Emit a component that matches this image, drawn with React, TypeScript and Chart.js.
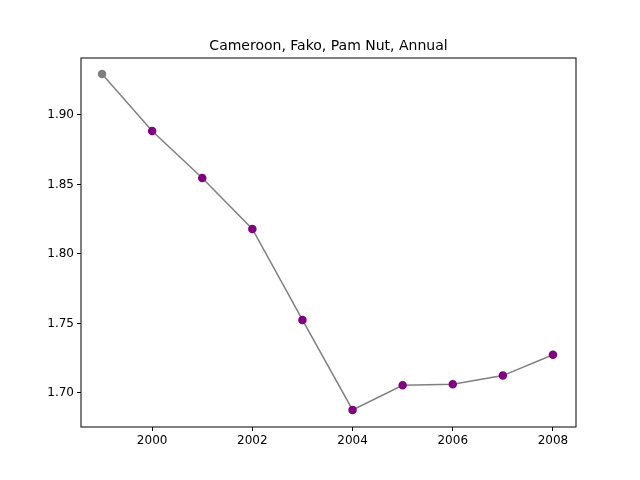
import { useEffect, useRef } from 'react';
import { Chart, registerables } from 'chart.js';

Chart.register(...registerables);

const years = [1999, 2000, 2001, 2002, 2003, 2004, 2005, 2006, 2007, 2008];
const values = [1.9295, 1.8885, 1.8547, 1.818, 1.7525, 1.6878, 1.7055, 1.7062, 1.7125, 1.7275];
const pointColors = ['#808080', '#800080', '#800080', '#800080', '#800080', '#800080', '#800080', '#800080', '#800080', '#800080'];
const xTicks = [2000, 2002, 2004, 2006, 2008];
const yTicks = [1.7, 1.75, 1.8, 1.85, 1.9];
const title = 'Cameroon, Fako, Pam Nut, Annual';

const frame = {
  id: 'frame',
  afterDraw(chart: Chart) {
    const { ctx, chartArea: a } = chart;
    ctx.save();
    ctx.strokeStyle = '#000';
    ctx.lineWidth = 1;
    ctx.strokeRect(a.left, a.top, a.right - a.left, a.bottom - a.top);
    ctx.fillStyle = '#000';
    ctx.font = '14px "DejaVu Sans"';
    ctx.textAlign = 'center';
    ctx.textBaseline = 'alphabetic';
    ctx.fillText(title, (a.left + a.right) / 2, a.top - 8);
    ctx.restore();
  },
};

export default function App() {
  const ref = useRef<HTMLCanvasElement>(null);
  useEffect(() => {
    if (!ref.current) return;
    document.body.style.margin = '0';
    const chart = new Chart(ref.current, {
      type: 'line',
      data: {
        datasets: [{
          data: years.map((y, i) => ({ x: y, y: values[i] })),
          borderColor: '#808080',
          borderWidth: 1.5,
          pointBackgroundColor: pointColors,
          pointBorderColor: pointColors,
          pointRadius: 3.5,
          tension: 0,
        }],
      },
      options: {
        animation: false,
        responsive: false,
        layout: { padding: { top: 58, right: 64, left: 0, bottom: 0 } },
        plugins: { legend: { display: false }, tooltip: { enabled: false } },
        scales: {
          x: {
            type: 'linear', min: 1998.58, max: 2008.46,
            afterBuildTicks: (s: any) => { s.ticks = xTicks.map(v => ({ value: v })); },
            afterFit: (s: any) => { s.height = 53; },
            grid: { drawOnChartArea: false, tickLength: 4, color: '#000', tickColor: '#000' },
            border: { display: false },
            ticks: { color: '#000', font: { family: 'DejaVu Sans', size: 12 }, maxRotation: 0, callback: (v: any) => String(v) },
          },
          y: {
            min: 1.6755, max: 1.941,
            afterBuildTicks: (s: any) => { s.ticks = yTicks.map(v => ({ value: v })); },
            afterFit: (s: any) => { s.width = 81; },
            grid: { drawOnChartArea: false, tickLength: 4, color: '#000', tickColor: '#000' },
            border: { display: false },
            ticks: { color: '#000', font: { family: 'DejaVu Sans', size: 12 }, callback: (v: any) => Number(v).toFixed(2) },
          },
        },
      },
      plugins: [frame],
    });
    return () => chart.destroy();
  }, []);
  return <canvas ref={ref} width={640} height={480} style={{ display: 'block', background: '#fff' }} />;
}
